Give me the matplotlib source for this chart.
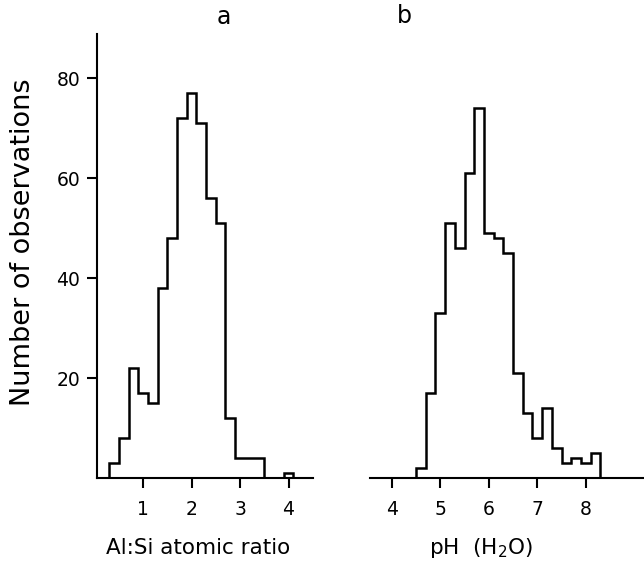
import matplotlib
matplotlib.use("Agg")
import matplotlib.pyplot as plt
import numpy as np

# Panel a: Al:Si atomic ratio histogram (bin width 0.2)
alsi_edges = [0.3, 0.5, 0.7, 0.9, 1.1, 1.3, 1.5, 1.7, 1.9, 2.1, 2.3, 2.5, 2.7,
              2.9, 3.1, 3.3, 3.5, 3.7, 3.9, 4.1]
alsi_counts = [3, 8, 22, 17, 15, 38, 48, 72, 77, 71, 56, 51, 12,
               4, 4, 4, 0, 0, 1]

# Panel b: pH (H2O) histogram (bin width 0.2)
ph_edges = [4.5, 4.7, 4.9, 5.1, 5.3, 5.5, 5.7, 5.9, 6.1, 6.3, 6.5, 6.7, 6.9,
            7.1, 7.3, 7.5, 7.7, 7.9, 8.1, 8.3]
ph_counts = [2, 17, 33, 51, 46, 61, 74, 49, 48, 45, 21, 13, 8,
             14, 6, 3, 4, 3, 5]

a_ticks = [1, 2, 3, 4]
b_ticks = [4, 5, 6, 7, 8]
y_ticks = [20, 40, 60, 80]

plt.rcParams['font.family'] = ['DejaVu Sans']

W, H = 644, 568
fig = plt.figure(figsize=(W / 100, H / 100), dpi=100)

lw = 1.8
ymax = 88.9
ax1 = fig.add_axes([97 / W, 90 / H, (312.75 - 97) / W, 444.5 / H])
ax2 = fig.add_axes([370 / W, 90 / H, 274 / W, 444.5 / H])

ax1.stairs(alsi_counts, alsi_edges, baseline=0, color='black', linewidth=lw)
ax2.stairs(ph_counts, ph_edges, baseline=0, color='black', linewidth=lw)

ax1.set_xlim(0.05, 4.5)
ax1.set_ylim(0, ymax)
ax2.set_xlim(3.55, 9.2)
ax2.set_ylim(0, ymax)

for ax in (ax1, ax2):
    for s in ('top', 'right'):
        ax.spines[s].set_visible(False)
    ax.spines['bottom'].set_linewidth(1.5)
    ax.spines['left'].set_linewidth(1.5)
    ax.tick_params(axis='both', direction='out', length=7, width=1.5,
                   labelsize=13.5, colors='black')
    ax.tick_params(axis='x', pad=9)
    ax.tick_params(axis='y', pad=5)
    ax.patch.set_alpha(0)

ax1.set_xticks(a_ticks)
ax1.set_xticklabels([str(t) for t in a_ticks])
ax1.set_yticks(y_ticks)
ax1.set_yticklabels([str(t) for t in y_ticks])

ax2.set_xticks(b_ticks)
ax2.set_xticklabels([str(t) for t in b_ticks])
ax2.spines['left'].set_visible(False)
ax2.set_yticks([])

fig.text(224 / W, 1 - 17 / H, 'a', ha='center', va='center', fontsize=17)
fig.text(404 / W, 1 - 16 / H, 'b', ha='center', va='center', fontsize=17)
fig.text(23 / W, 1 - 242 / H, 'Number of observations', rotation=90,
         ha='center', va='center', fontsize=19.5)
fig.text(198 / W, 1 - 548 / H, 'Al:Si atomic ratio', ha='center', va='center',
         fontsize=15.5)
fig.text(481 / W, 1 - 548 / H, 'pH  (H$_2$O)', ha='center', va='center',
         fontsize=15.5)

fig.savefig('out.png', dpi=100, facecolor='white')
